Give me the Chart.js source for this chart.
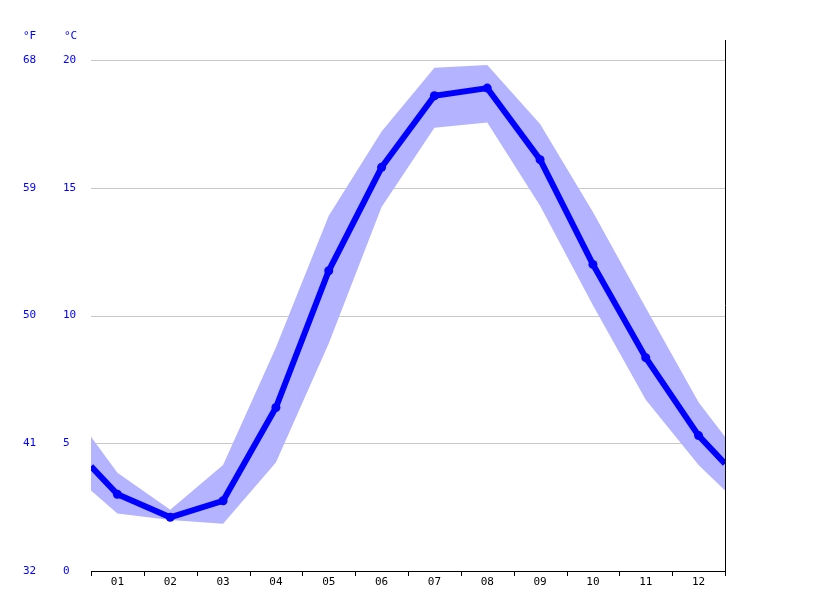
<!DOCTYPE html><html><head><meta charset="utf-8">
<script src="https://cdn.jsdelivr.net/npm/chart.js@4"></script>
<style>html,body{margin:0;padding:0;background:#fff}#w{width:815px;height:611px}</style></head><body><div id="w"><canvas id="c"></canvas></div>
<script>
const months=["01","02","03","04","05","06","07","08","09","10","11","12"];
const xPos=[0.5,1,2,3,4,5,6,7,8,9,10,11,12,12.5];
const meanTemp=[4.1,3.0,2.1,2.75,6.4,11.75,15.8,18.6,18.9,16.1,12.0,8.35,5.3,4.2];
const maxTemp=[5.25,3.85,2.4,4.15,8.75,13.9,17.2,19.7,19.8,17.5,14.05,10.3,6.6,5.25];
const minTemp=[3.15,2.25,2.0,1.85,4.25,8.9,14.25,17.35,17.55,14.3,10.4,6.7,4.15,3.15];
const cTicks=[0,5,10,15,20];
const fTicks=["32","41","50","59","68"];
const pts=a=>a.map((v,i)=>({x:xPos[i],y:v}));
const deco={id:'deco',afterDraw(ch){
 const c=ch.ctx,x=ch.scales.x,y=ch.scales.y,a=ch.chartArea;
 c.save();c.font='11px "DejaVu Sans Mono"';c.textBaseline='middle';
 c.fillStyle='#0000ff';
 c.textAlign='left';c.fillText('°F',23,36);c.fillText('°C',64,36);
 cTicks.forEach((t,i)=>{const py=y.getPixelForValue(t);c.fillText(fTicks[i],23,py);c.fillText(String(t),63,py);});
 c.fillStyle='#000';c.textAlign='center';
 months.forEach((m,i)=>c.fillText(m,x.getPixelForValue(i+1),582));
 c.strokeStyle='#000';c.lineWidth=1;c.beginPath();
 c.moveTo(a.left,a.bottom+0.5);c.lineTo(a.right,a.bottom+0.5);
 for(let i=0;i<=12;i++){const px=Math.round(x.getPixelForValue(i+0.5))+0.5;c.moveTo(px,a.bottom);c.lineTo(px,a.bottom+5);}
 c.moveTo(a.right+0.5,40);c.lineTo(a.right+0.5,a.bottom);c.stroke();c.restore();},
 beforeDatasetsDraw(ch){const c=ch.ctx,y=ch.scales.y,a=ch.chartArea;c.save();c.strokeStyle='#c8c8c8';c.lineWidth=1;
 cTicks.slice(1).forEach(t=>{const py=Math.round(y.getPixelForValue(t))+0.5;c.beginPath();c.moveTo(a.left,py);c.lineTo(a.right,py);c.stroke();});c.restore();}};
new Chart(document.getElementById('c'),{type:'line',
data:{datasets:[
 {data:pts(meanTemp),borderColor:'#0000ff',borderWidth:6,pointRadius:xPos.map((v,i)=>i==0||i==xPos.length-1?0:4.5),pointBackgroundColor:'#0000ff',pointBorderWidth:0,fill:false,order:0},
 {data:pts(maxTemp),borderWidth:0,pointRadius:0,backgroundColor:'#b3b3ff',fill:'+1',order:1},
 {data:pts(minTemp),borderWidth:0,pointRadius:0,fill:false,order:1}]},
options:{responsive:true,maintainAspectRatio:false,animation:false,
 layout:{padding:{left:91,right:90,top:60,bottom:40}},
 plugins:{legend:{display:false},tooltip:{enabled:false}},
 elements:{line:{tension:0}},
 scales:{x:{type:'linear',min:0.5,max:12.5,display:false},y:{min:0,max:20,display:false}}},
plugins:[deco]});
</script></body></html>
